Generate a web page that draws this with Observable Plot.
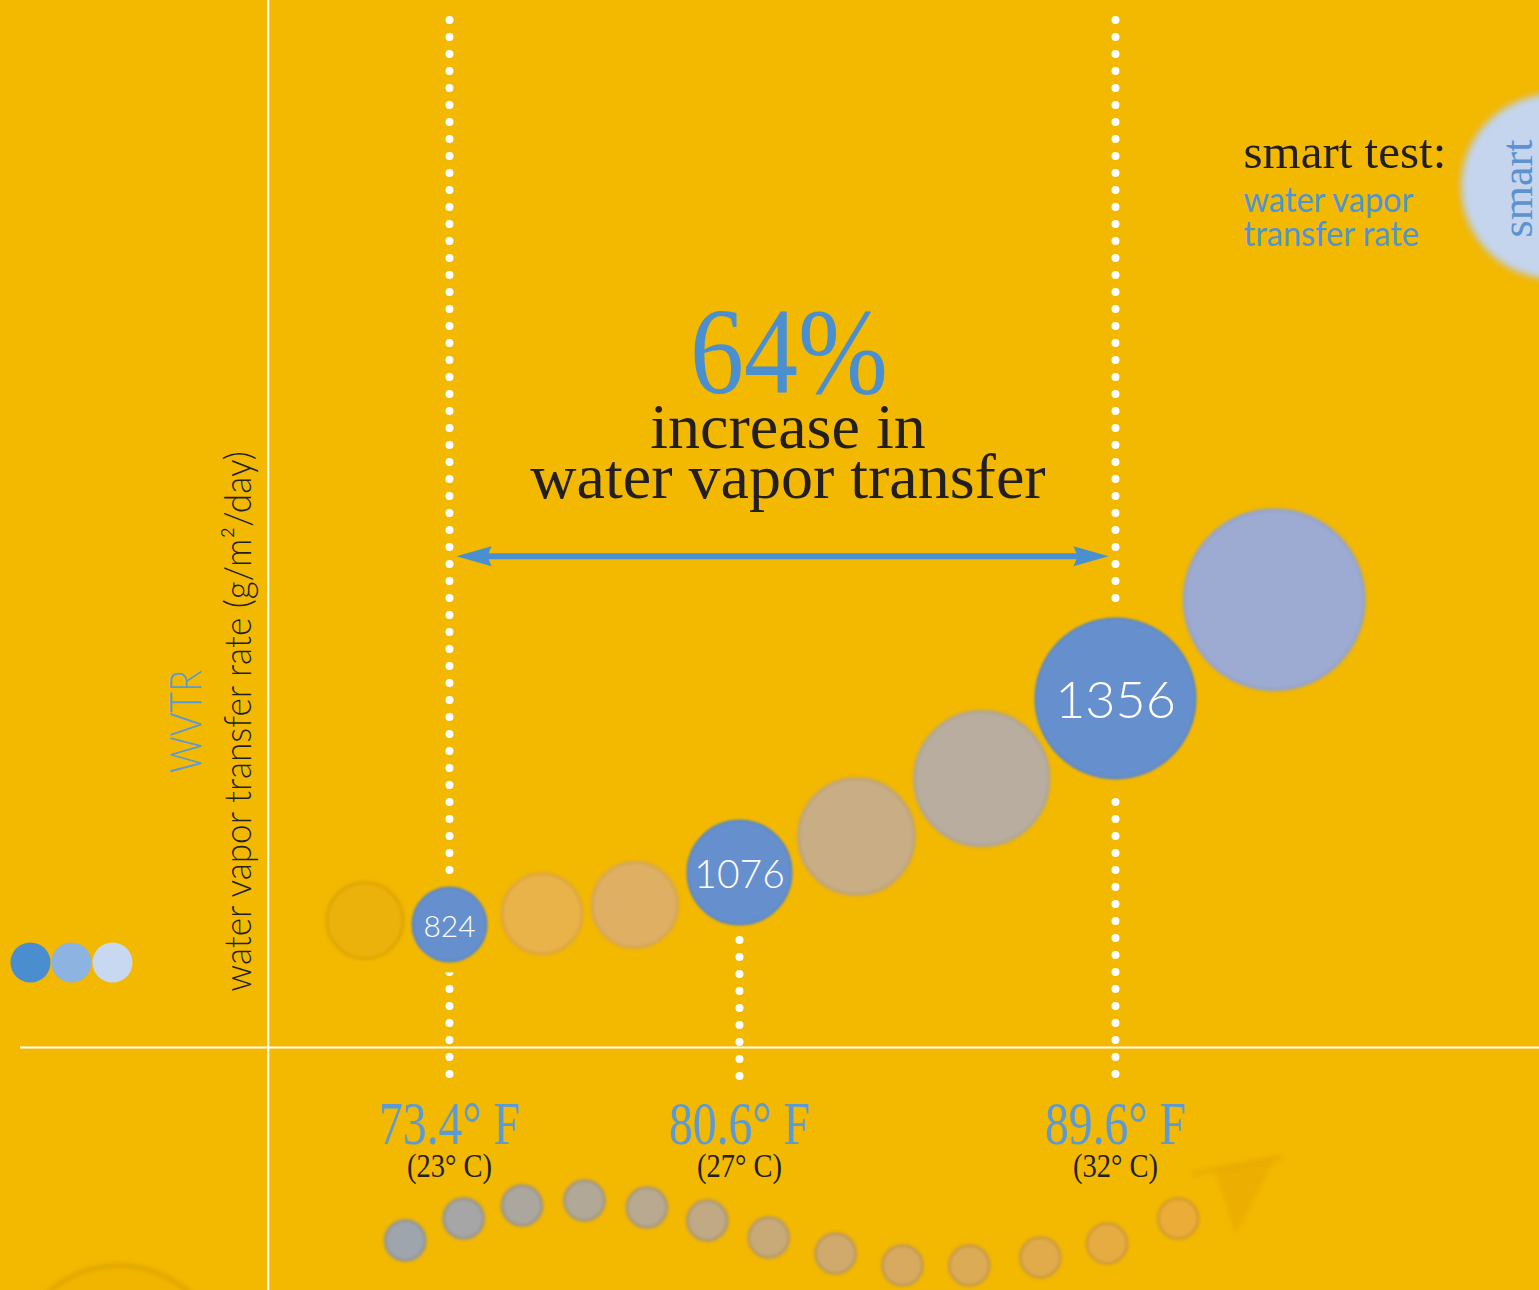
<!DOCTYPE html>
<html>
<head>
<meta charset="utf-8">
<script src="https://cdn.jsdelivr.net/npm/d3@7"></script>
<script src="https://cdn.jsdelivr.net/npm/@observablehq/plot@0.6"></script>
<style>
  html, body { margin: 0; padding: 0; overflow: hidden; background: #F3B800; }
  #chart svg { display: block; }
</style>
</head>
<body>
<div id="chart"></div>
<script>
// ---------- data ----------
// measured smart-test readings
const measuredF = [73.4, 80.6, 89.6];
const measuredC = [23, 27, 32];
const measuredWVTR = [824, 1076, 1356];
// intermediate (unlabelled) bubbles along the curve
const trendF = [71.3, 75.7, 78.0, 83.4, 86.4, 93.4];
const trendWVTR = [843, 876, 919, 1134, 1227, 1515];
// decorative wave of small dots under the temperature axis
const waveF = [72.3, 73.75, 75.2, 76.75, 78.3, 79.8, 81.3, 82.9, 84.5, 86.1, 87.8, 89.4, 91.1];
const waveLevel = [-1293, -1146, -1058, -1025, -1072, -1159, -1273, -1380, -1460, -1460, -1407, -1313, -1146];
// faint arrow that ends the wave
const waveEndF = [92.6];
const waveEndLevel = [-924];
// annotation values
const increaseLabel = "64%";
const increaseText = "increase in\nwater vapor transfer";
const increaseLevel = 1585;          // WVTR level of the double arrow
const axisOriginF = 68.9;            // where the vertical axis line sits
const legendTitle = "smart test:";
const legendSubtitle = "water vapor\ntransfer rate";
const badgeText = "smart";
const yTitleShort = "WVTR";
const yTitleLong = "water vapor transfer rate (g/m²/day)";

// ---------- styles ----------
const bg = "#F3B800";
const blue = "#4A8FD0";
const dark = "#231F20";
const serif = "'Liberation Serif', 'DejaVu Serif', serif";
const sans = "Lato, 'Open Sans', 'Noto Sans', sans-serif";
const trendPalette = ["#ECB20C", "#E9B34A", "#DFB063", "#C9AE85", "#B9AD9F", "#9DAAD2"];
const trendRim = ["#DEA500", "#DCA640", "#D3A658", "#BCA47C", "#AEA597", "#93A3CC"];
const waveColor = d3.piecewise(d3.interpolateRgb, ["#9FA5AC", "#B8A990", "#D7AA60", "#EBAC38"]);
const legendColors = ["#4A8ECF", "#8DB3E0", "#C8D8F0"];
const tag = (name) => () => name;   // per-element aria-label used for post-styling

const measured = measuredF.map((f, i) => ({f, c: measuredC[i], wvtr: measuredWVTR[i]}));
const trend = trendF.map((f, i) => ({f, wvtr: trendWVTR[i], i}));
const wave = waveF.map((f, i) => ({f, level: waveLevel[i], t: i / (waveF.length - 1)}));
const waveEnd = waveEndF.map((f, i) => ({f, level: waveEndLevel[i]}));
const heads = [
  {f: measuredF[0], level: increaseLevel, rot: 180},
  {f: measuredF[measuredF.length - 1], level: increaseLevel, rot: 0}
];
const span = [{from: measuredF[0], to: measuredF[measuredF.length - 1], level: increaseLevel}];
const labelSize = d3.scaleLinear([824, 1076, 1356], [30, 39, 52]);

// filled arrow-head symbol (tip sits a little inside the guide line)
const headSymbol = {
  draw(ctx, size) {
    const r = Math.sqrt(size / Math.PI);
    ctx.moveTo(-0.7 * r, 0);
    ctx.lineTo(-4.2 * r, -r);
    ctx.lineTo(-3.8 * r, 0);
    ctx.lineTo(-4.2 * r, r);
    ctx.closePath();
  }
};
// faint paper-plane shaped arrow
const planeSymbol = {
  draw(ctx, size) {
    const k = Math.sqrt(size / Math.PI) / 10;
    ctx.moveTo(-48 * k, -13 * k);
    ctx.lineTo(40 * k, -30 * k);
    ctx.lineTo(40 * k, -26 * k);
    ctx.lineTo(-48 * k, -10 * k);
    ctx.closePath();
    ctx.moveTo(-25 * k, -16 * k);
    ctx.lineTo(32 * k, -25 * k);
    ctx.lineTo(-5 * k, 46 * k);
    ctx.closePath();
  }
};

const plot = Plot.plot({
  width: 1539,
  height: 1290,
  marginLeft: 20,
  marginRight: 0,
  marginTop: 20,
  marginBottom: 214,
  style: {background: bg, maxWidth: "none"},
  x: {type: "linear", domain: measuredF, range: [449, 739, 1115], axis: null},
  y: {type: "linear", domain: [0, ...measuredWVTR], range: [1047, 924, 872, 698], axis: null},
  r: {type: "linear", domain: [...measuredWVTR, d3.max(trendWVTR)], range: [37, 52, 80, 90]},
  color: {type: "identity"},
  marks: [
    // decorative ring at the bottom-left
    Plot.dot([0], {frameAnchor: "bottom-left", dx: 98, dy: 294, r: 105, fill: "#F1B500", stroke: "#DEA300", strokeWidth: 4, ariaLabel: tag("ring")}),
    // decorative wave
    Plot.dot(wave, {x: "f", y: "level", r: 20, fill: (d) => waveColor(d.t), stroke: (d) => d3.color(waveColor(d.t)).darker(0.35).formatHex(), strokeWidth: 2.5, ariaLabel: tag("wave")}),
    Plot.dot(waveEnd, {x: "f", y: "level", r: 10, symbol: planeSymbol, fill: "#ECAE00", stroke: "#E6A800", strokeWidth: 1, ariaLabel: tag("plane")}),
    // axis lines
    Plot.ruleY([0], {stroke: "white", strokeWidth: 2}),
    Plot.ruleX([axisOriginF], {stroke: "white", strokeWidth: 2, insetTop: -20, insetBottom: -214}),
    // dotted guides
    Plot.ruleX([measured[0], measured[2]], {x: "f", stroke: "white", strokeWidth: 8, strokeDasharray: "0 17", strokeLinecap: "round"}),
    Plot.ruleX([measured[1]], {x: "f", y: "wvtr", insetTop: 29, stroke: "white", strokeWidth: 8, strokeDasharray: "0 17", strokeLinecap: "round"}),
    // increase arrow
    Plot.arrow(span, {x1: "from", x2: "to", y1: "level", y2: "level", headLength: 0, insetStart: 40, insetEnd: 40, stroke: blue, strokeWidth: 6}),
    Plot.dot(heads, {x: "f", y: "level", symbol: headSymbol, r: 10, rotate: "rot", fill: blue, stroke: "none"}),
    // halo and measured bubbles
    Plot.dot(measured, {x: "f", y: "wvtr", r: "wvtr", fill: bg, stroke: bg, strokeWidth: 22}),
    Plot.dot(measured, {x: "f", y: "wvtr", r: "wvtr", fill: "#6690CD", stroke: "#5A86C5", strokeWidth: 2, ariaLabel: tag("measured")}),
    // trend bubbles
    Plot.dot(trend, {x: "f", y: "wvtr", r: "wvtr", fill: (d) => trendPalette[d.i], stroke: (d) => trendRim[d.i], strokeWidth: 3, ariaLabel: tag("trend")}),
    // bubble values
    Plot.text(measured, {x: "f", y: "wvtr", text: (d) => String(d.wvtr), dy: 3, fill: "white", fontSize: (d) => labelSize(d.wvtr), fontFamily: sans, fontWeight: 300}),
    // temperature labels
    Plot.text(measured, {x: "f", frameAnchor: "bottom", text: (d) => `${d.f}° F`, dy: 67, lineAnchor: "bottom", fontSize: 62, fontFamily: serif, fill: "#5A9AD6", ariaLabel: tag("temp-f")}),
    Plot.text(measured, {x: "f", frameAnchor: "bottom", text: (d) => `(${d.c}° C)`, dy: 100, lineAnchor: "bottom", fontSize: 34, fontFamily: serif, fill: dark, ariaLabel: tag("temp-c")}),
    // headline
    Plot.text([increaseLabel], {frameAnchor: "top", dx: 9, dy: 372, lineAnchor: "bottom", fontSize: 122, fontFamily: serif, fill: blue, ariaLabel: tag("headline")}),
    Plot.text([increaseText], {frameAnchor: "top", dx: 8, dy: 477, lineAnchor: "bottom", lineHeight: 0.77, fontSize: 64, fontFamily: serif, fill: dark}),
    // smart test legend block
    Plot.text([legendTitle], {frameAnchor: "top-left", textAnchor: "start", dx: 1223, dy: 147, lineAnchor: "bottom", fontSize: 49, fontFamily: serif, fill: dark}),
    Plot.text([legendSubtitle], {frameAnchor: "top-left", textAnchor: "start", dx: 1223, dy: 225, lineAnchor: "bottom", lineHeight: 0.95, fontSize: 35, fontFamily: sans, fontWeight: 400, fill: "#4F94D4", ariaLabel: tag("subtitle")}),
    Plot.dot([0], {frameAnchor: "top-right", dx: 14, dy: 166, r: 91, fill: "#C5D5EE", stroke: "#BACDEA", strokeWidth: 3, ariaLabel: tag("badge")}),
    Plot.text([badgeText], {frameAnchor: "top-right", textAnchor: "middle", lineAnchor: "middle", dx: -22, dy: 188 - 20, rotate: -90, fontSize: 44, fontFamily: serif, fill: "#5B92CF"}),
    // y axis titles
    Plot.text([yTitleShort], {frameAnchor: "top-left", textAnchor: "middle", dx: 180, dy: 701, rotate: -90, lineAnchor: "bottom", fontSize: 44, fontFamily: sans, fontWeight: 300, fill: "#5B9BD5", ariaLabel: tag("wvtr-title")}),
    Plot.text([yTitleLong], {frameAnchor: "top-left", textAnchor: "middle", dx: 230, dy: 701, rotate: -90, lineAnchor: "bottom", fontSize: 37, fontFamily: sans, fontWeight: 300, fill: dark, ariaLabel: tag("y-title")}),
    // colour legend dots
    ...legendColors.map((c, i) => Plot.dot([c], {frameAnchor: "bottom-left", dx: 10 + 41 * i, dy: -114, r: 20, fill: c, stroke: "none"}))
  ]
});

// horizontal condensing of the narrow display faces
const condense = {"temp-f": 0.77, "temp-c": 0.84, "headline": 0.885, "wvtr-title": 0.82, "y-title": 0.95, "subtitle": 0.93};
for (const [label, k] of Object.entries(condense)) {
  plot.querySelectorAll(`text[aria-label="${label}"]`).forEach((t) => {
    t.setAttribute("transform", `${t.getAttribute("transform") || ""} scale(${k},1)`);
  });
}
// soft edges on the illustrative bubbles
const blur = {"trend": 1.6, "wave": 1.6, "ring": 2, "badge": 3.5, "measured": 0.8, "plane": 2};
for (const [label, b] of Object.entries(blur)) {
  plot.querySelectorAll(`[aria-label="${label}"]`).forEach((el) => {
    if (el.tagName.toLowerCase() !== "text") el.style.filter = `blur(${b}px)`;
  });
}
document.getElementById("chart").append(plot);
</script>
</body>
</html>
